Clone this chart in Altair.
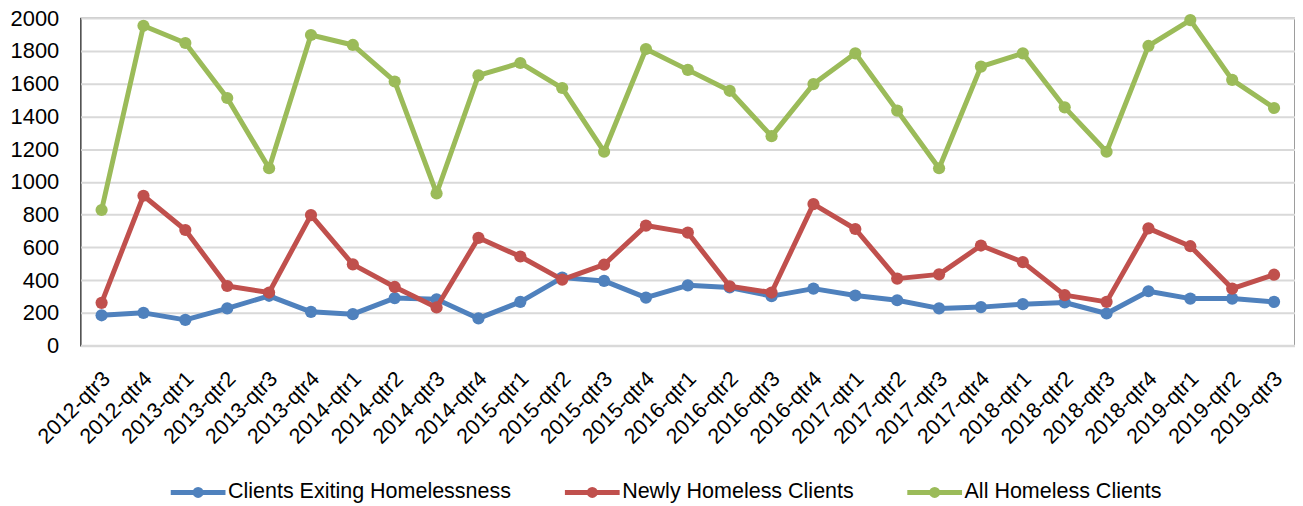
import altair as alt
import pandas as pd

quarters = [
    "2012-qtr3", "2012-qtr4",
    "2013-qtr1", "2013-qtr2", "2013-qtr3", "2013-qtr4",
    "2014-qtr1", "2014-qtr2", "2014-qtr3", "2014-qtr4",
    "2015-qtr1", "2015-qtr2", "2015-qtr3", "2015-qtr4",
    "2016-qtr1", "2016-qtr2", "2016-qtr3", "2016-qtr4",
    "2017-qtr1", "2017-qtr2", "2017-qtr3", "2017-qtr4",
    "2018-qtr1", "2018-qtr2", "2018-qtr3", "2018-qtr4",
    "2019-qtr1", "2019-qtr2", "2019-qtr3",
]

exiting = [185, 200, 157, 227, 304, 206, 192, 290, 283, 166,
           267, 415, 395, 293, 368, 355, 302, 348, 306, 277,
           227, 235, 253, 263, 196, 332, 287, 287, 267]

newly = [261, 915, 706, 364, 324, 797, 496, 358, 233, 658,
         544, 403, 494, 733, 690, 362, 324, 864, 712, 409,
         435, 611, 510, 308, 267, 716, 607, 348, 433]

all_homeless = [828, 1953, 1848, 1512, 1083, 1897, 1836, 1613, 929, 1650,
                1726, 1573, 1184, 1811, 1684, 1556, 1279, 1597, 1785, 1435,
                1083, 1704, 1785, 1455, 1184, 1830, 1988, 1623, 1451]

series_names = ["Clients Exiting Homelessness", "Newly Homeless Clients", "All Homeless Clients"]
series_colors = ["#4F81BD", "#C0504D", "#9BBB59"]
y_ticks = [0, 200, 400, 600, 800, 1000, 1200, 1400, 1600, 1800, 2000]

rows = []
for name, vals in zip(series_names, [exiting, newly, all_homeless]):
    for q, v in zip(quarters, vals):
        rows.append({"quarter": q, "value": v, "series": name})
df = pd.DataFrame(rows)

FONT = "Liberation Sans"
GRID = "#d9d9d9"

color_scale = alt.Scale(domain=series_names, range=series_colors)

x_enc = alt.X(
    "quarter:N",
    sort=quarters,
    scale=alt.Scale(type="point", padding=0.5),
    axis=alt.Axis(
        title=None, labelAngle=-45, labelAlign="right", labelBaseline="middle",
        labelPadding=30, labelOffset=5, ticks=False, grid=False,
        domainColor=GRID, domainWidth=2.5,
        labelFontSize=21.5, labelFont=FONT, labelColor="black", labelOverlap=False,
    ),
)
y_enc = alt.Y(
    "value:Q",
    scale=alt.Scale(domain=[0, 2000], nice=False),
    axis=alt.Axis(
        title=None, values=y_ticks, format="d", ticks=False, domain=False,
        gridColor=GRID, gridWidth=2, labelPadding=22,
        labelFontSize=22, labelFont=FONT, labelColor="black",
    ),
)

legend_path = ("M-1,0H1M-0.11,0A0.11,0.11,0,1,1,0.11,0"
               "A0.11,0.11,0,1,1,-0.11,0Z")

legend = alt.Legend(
    title=None, orient="none", legendX=88, legendY=446, direction="horizontal",
    symbolType=legend_path, symbolSize=3025, symbolStrokeWidth=5,
    symbolOpacity=1, labelFontSize=21.6, labelFont=FONT, labelColor="black",
    labelOffset=0, columnPadding=43, labelLimit=500,
)

layers = []
for i, name in enumerate(series_names):
    base = alt.Chart(df).transform_filter(alt.datum.series == name)
    line = base.mark_line(strokeWidth=5, strokeJoin="round").encode(
        x=x_enc, y=y_enc,
        color=alt.Color("series:N", scale=color_scale, legend=legend if i == 0 else None),
    )
    pts = base.mark_circle(size=150, opacity=1).encode(
        x=x_enc, y=y_enc,
        color=alt.Color("series:N", scale=color_scale, legend=None),
    )
    layers += [line, pts]

chart = alt.layer(*layers).properties(
    width=1220, height=329,
    padding={"left": 73, "top": 9, "right": 0, "bottom": 160},
    autosize=alt.AutoSizeParams(type="none"),
).configure_view(stroke="#262626", strokeWidth=1.3)

chart.save("out.html", embed_options={"renderer": "svg", "actions": False})
